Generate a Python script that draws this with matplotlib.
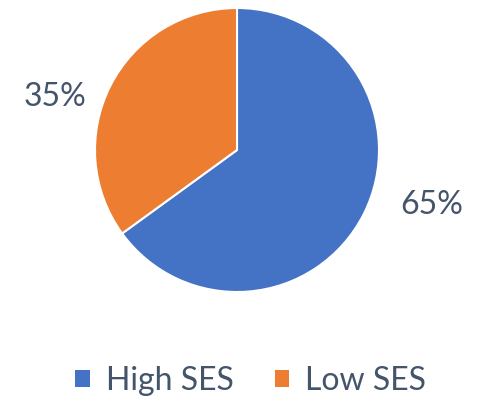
import matplotlib.pyplot as plt
from matplotlib.patches import Patch

plt.rcParams['font.family'] = ['Lato', 'DejaVu Sans']

categories = ['High SES', 'Low SES']
shares = [65, 35]
colors = ['#4472C4', '#ED7D31']
text_color = '#44546A'

fig = plt.figure(figsize=(4.87, 4.0), dpi=100)
# pie centre ~ (237,150) px, radius ~142 px
ax = fig.add_axes([(237 - 142) / 487, (400 - 292) / 400, 284 / 487, 284 / 400])
wedges, _ = ax.pie(shares, colors=colors, startangle=90, counterclock=False,
                   wedgeprops=dict(edgecolor='white', linewidth=1.5))
ax.set_xlim(-1, 1)
ax.set_ylim(-1, 1)
ax.set_aspect('equal')
ax.axis('off')

# data labels, placed outside the slices like Excel does
label_pos = [(1.373, -0.387), (-1.28, 0.373)]
for (x, y), v in zip(label_pos, shares):
    ax.text(x, y, f'{v}%', ha='center', va='center', fontsize=23,
            color=text_color, clip_on=False)

handles = [Patch(facecolor=c, edgecolor='none') for c in colors]
fig.legend(handles, categories, loc='center', bbox_to_anchor=(0.515, 1 - 381 / 400),
           ncol=2, frameon=False, fontsize=23, labelcolor=text_color,
           handlelength=0.45, handleheight=0.45, handletextpad=0.5, columnspacing=1.3)

fig.savefig('out.png', dpi=100)
